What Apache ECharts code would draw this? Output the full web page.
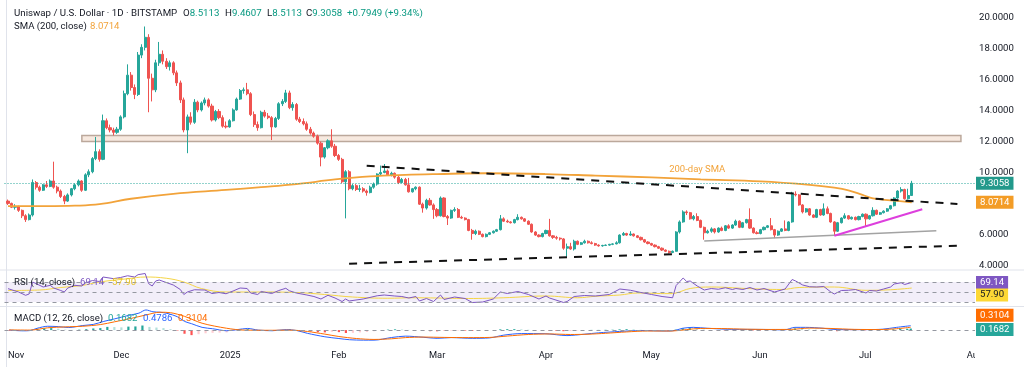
<!DOCTYPE html>
<html><head><meta charset="utf-8">
<script src="https://cdn.jsdelivr.net/npm/echarts@6/dist/echarts.min.js"></script>
<style>html,body{margin:0;padding:0;background:#fff}#c{width:1024px;height:367px}</style>
</head><body><div id="c"></div>
<script>
// ---------- DATA ----------
// daily candles [open, high, low, close], first candle 2024-10-30
const firstDay = [2024, 9, 30];
const oct24 = [[8.15,8.25,7.90,8.00],[8.00,8.05,7.70,7.75]];
const nov24 = [[7.75,7.95,7.60,7.80],[7.80,7.85,7.45,7.55],[7.55,7.60,7.05,7.20],[7.20,7.30,6.80,6.95],[6.95,7.35,6.90,7.25],
[7.25,9.55,7.15,9.35],[9.35,9.45,8.90,9.05],[9.05,9.15,8.75,8.85],[8.85,9.25,8.80,9.20],[9.20,9.45,9.00,9.10],
[9.10,9.55,9.05,9.45],[9.45,10.70,8.95,9.05],[9.05,9.15,8.65,8.80],[8.80,8.90,8.35,8.45],[8.45,8.55,7.95,8.15],
[8.15,8.65,8.10,8.55],[8.55,9.00,8.45,8.95],[8.95,9.30,8.85,9.20],[9.20,9.55,9.10,9.45],[9.45,9.50,8.75,8.85],
[8.85,9.95,8.80,9.85],[9.85,10.20,9.70,10.05],[10.05,11.00,9.95,10.90],[10.90,12.30,10.80,11.35],[11.35,11.50,10.70,10.85],
[10.85,13.75,10.80,13.35],[13.35,13.50,12.80,12.90],[12.90,13.10,12.60,12.75],[12.75,12.90,12.40,12.60],[12.60,12.95,12.50,12.80]];
const dec24 = [[12.80,13.70,12.70,13.60],[13.60,15.30,13.50,15.10],[15.10,17.00,15.00,16.30],[16.30,16.50,15.30,15.50],[15.50,15.70,14.75,15.05],
[15.05,17.80,14.95,17.60],[17.60,18.30,17.40,18.10],[18.10,19.45,17.90,18.75],[18.75,18.95,13.90,16.10],[16.10,16.40,14.60,15.35],
[15.35,17.30,15.20,17.10],[17.10,18.45,16.90,17.65],[17.65,17.90,17.00,17.20],[17.20,17.40,16.70,16.85],[16.85,17.25,16.60,17.10],
[17.10,17.20,16.30,16.45],[16.45,16.60,15.60,15.80],[15.80,15.95,14.50,14.70],[14.70,14.85,12.60,12.75],[12.75,13.75,11.25,13.60],
[13.60,13.90,13.10,13.25],[13.25,14.75,13.15,14.55],[14.55,14.65,13.90,14.05],[14.05,14.60,13.95,14.50],[14.50,14.85,14.35,14.70],
[14.70,14.80,14.20,14.30],[14.30,14.45,13.30,13.40],[13.40,14.05,13.30,13.95],[13.95,14.10,13.45,13.55],[13.55,13.70,12.90,13.00],
[13.00,13.30,12.85,12.95]];
const jan25 = [[12.95,13.45,12.90,13.35],[13.35,14.15,13.30,14.05],[14.05,14.85,14.00,14.75],[14.75,15.40,14.70,15.30],[15.30,15.50,15.10,15.35],
[15.35,15.80,15.00,15.10],[15.10,15.20,13.65,13.75],[13.75,13.95,12.95,13.10],[13.10,13.30,12.70,12.90],[12.90,14.00,12.85,13.90],
[13.90,14.05,13.55,13.65],[13.65,13.85,13.45,13.55],[13.55,13.65,12.10,12.95],[12.95,13.60,12.90,13.50],[13.50,14.55,13.40,14.45],
[14.45,14.75,14.30,14.60],[14.60,15.35,14.50,15.15],[15.15,15.30,14.10,14.20],[14.20,14.55,14.00,14.40],[14.40,14.50,13.35,13.45],
[13.45,13.60,13.20,13.30],[13.30,13.50,13.05,13.15],[13.15,13.30,12.70,12.80],[12.80,12.95,12.45,12.55],[12.55,12.65,12.25,12.35],
[12.35,12.45,11.80,11.90],[11.90,12.00,10.40,11.00],[11.00,11.65,10.90,11.60],[11.60,12.15,11.50,12.05],[12.05,12.80,11.60,11.70],
[11.70,11.85,11.00,11.10]];
const feb25 = [[11.10,11.20,10.75,10.85],[10.85,10.95,9.30,9.40],[9.40,10.15,7.03,10.05],[10.05,10.15,8.85,8.95],[8.95,9.25,8.85,9.15],
[9.15,9.25,8.80,8.90],[8.90,9.20,8.75,8.95],[8.95,9.05,8.70,8.80],[8.80,8.90,8.50,8.70],[8.70,9.15,8.65,9.05],
[9.05,9.35,8.95,9.25],[9.25,9.95,9.15,9.90],[9.90,10.45,9.80,10.00],[10.00,10.55,9.95,10.10],[10.10,10.20,9.80,9.85],
[9.85,10.05,9.75,9.95],[9.95,10.00,9.60,9.70],[9.70,9.80,9.25,9.35],[9.35,9.65,9.30,9.55],[9.55,9.65,9.15,9.20],
[9.20,9.65,8.70,8.75],[8.75,9.00,8.70,8.95],[8.95,9.10,8.85,9.05],[9.05,9.10,7.90,7.95],[7.95,8.05,7.40,7.70],
[7.70,8.30,7.60,8.20],[8.20,8.35,7.85,7.90],[7.90,8.00,7.00,7.60]];
const mar25 = [[7.60,7.70,7.10,7.20],[7.20,8.45,7.15,8.35],[8.35,8.40,7.10,7.15],[7.15,7.25,6.60,7.05],[7.05,7.60,7.00,7.55],
[7.55,7.75,7.45,7.60],[7.60,7.70,7.05,7.10],[7.10,7.20,7.00,7.05],[7.05,7.10,6.90,6.95],[6.95,7.00,6.20,6.25],
[6.25,6.35,5.65,6.05],[6.05,6.30,5.95,6.20],[6.20,6.25,5.95,6.00],[6.00,6.05,5.80,5.85],[5.85,6.05,5.80,6.00],
[6.00,6.15,5.95,6.10],[6.10,6.25,6.05,6.20],[6.20,6.35,6.15,6.30],[6.30,7.25,6.25,7.00],[7.00,7.10,6.80,6.85],
[6.85,6.95,6.75,6.80],[6.80,6.85,6.70,6.75],[6.75,7.00,6.70,6.95],[6.95,7.30,6.90,7.10],[7.10,7.15,6.95,7.00],
[7.00,7.05,6.80,6.85],[6.85,6.90,6.60,6.65],[6.65,6.70,6.10,6.15],[6.15,6.20,5.90,5.95],[5.95,6.00,5.80,5.85],
[5.85,6.10,5.80,6.05]];
const apr25 = [[6.05,6.30,6.00,6.25],[6.25,7.00,5.85,5.90],[5.90,5.95,5.70,5.80],[5.80,5.90,5.65,5.75],[5.75,5.80,5.60,5.70],
[5.70,5.75,5.00,5.10],[5.10,5.40,4.55,5.20],[5.20,5.45,5.00,5.05],[5.05,5.65,4.95,5.55],[5.55,5.60,5.30,5.35],
[5.35,5.50,5.30,5.45],[5.45,5.65,5.40,5.55],[5.55,5.60,5.40,5.45],[5.45,5.55,5.35,5.40],[5.40,5.45,5.25,5.30],
[5.30,5.35,5.20,5.25],[5.25,5.32,5.20,5.28],[5.28,5.34,5.24,5.30],[5.30,5.38,5.26,5.35],[5.35,5.42,5.30,5.38],
[5.38,5.55,5.35,5.45],[5.45,6.00,5.40,5.95],[5.95,6.15,5.90,6.05],[6.05,6.10,5.90,5.95],[5.95,6.20,5.90,6.02],
[6.02,6.05,5.85,5.90],[5.90,5.95,5.75,5.80],[5.80,5.85,5.60,5.65],[5.65,5.70,5.45,5.50],[5.50,5.55,5.35,5.40]];
const may25 = [[5.40,5.45,5.25,5.30],[5.30,5.35,5.15,5.20],[5.20,5.25,5.05,5.10],[5.10,5.15,4.92,4.98],[4.98,5.02,4.85,4.90],
[4.90,4.95,4.75,4.82],[4.82,4.95,4.78,4.90],[4.90,6.20,4.88,6.15],[6.15,6.90,6.05,6.80],[6.80,7.55,6.75,7.45],
[7.45,7.55,7.25,7.40],[7.40,7.45,6.95,7.00],[7.00,7.25,6.90,7.15],[7.15,7.36,6.85,6.90],[6.90,6.95,6.40,6.45],
[6.45,6.50,5.65,6.10],[6.10,6.30,6.05,6.20],[6.20,6.45,6.10,6.35],[6.35,6.40,6.05,6.15],[6.15,6.45,6.10,6.40],
[6.40,6.50,6.20,6.25],[6.25,6.60,6.20,6.55],[6.55,6.65,6.35,6.40],[6.40,6.65,6.35,6.60],[6.60,6.95,6.55,6.85],
[6.85,6.90,6.40,6.45],[6.45,6.80,6.40,6.75],[6.75,7.00,6.70,6.95],[6.95,7.68,6.35,6.40],[6.40,6.45,6.05,6.10],
[6.10,6.20,6.00,6.05]];
const jun25 = [[6.05,6.35,6.00,6.30],[6.30,6.50,6.25,6.45],[6.45,6.60,6.40,6.55],[6.55,7.05,6.25,6.30],[6.30,6.35,5.75,5.95],
[5.95,6.25,5.90,6.20],[6.20,6.40,6.15,6.35],[6.35,6.90,6.20,6.25],[6.25,6.85,6.20,6.80],[6.80,8.75,6.75,8.60],
[8.60,8.78,8.45,8.55],[8.55,8.60,7.85,7.90],[7.90,7.95,7.35,7.45],[7.45,7.70,7.40,7.65],[7.65,7.70,7.20,7.25],
[7.25,7.30,7.05,7.10],[7.10,7.65,7.05,7.60],[7.60,7.65,7.20,7.25],[7.25,8.00,7.20,7.65],[7.65,7.80,7.30,7.35],
[7.35,7.40,6.75,6.80],[6.80,6.85,5.90,6.20],[6.20,6.80,6.15,6.75],[6.75,7.10,6.70,7.05],[7.05,7.36,7.00,7.20],
[7.20,7.25,6.95,7.00],[7.00,7.15,6.95,7.10],[7.10,7.15,6.90,6.95],[6.95,7.20,6.90,7.15],[7.15,7.35,7.10,7.30]];
const jul25 = [[7.30,7.35,6.50,7.00],[7.00,7.25,6.95,7.20],[7.20,7.75,7.15,7.55],[7.55,7.60,7.25,7.30],[7.30,7.45,7.25,7.40],
[7.40,7.55,7.35,7.50],[7.50,7.70,7.45,7.65],[7.65,7.90,7.60,7.85],[7.85,8.40,7.80,8.35],[8.35,8.85,8.30,8.80],
[8.80,9.05,8.70,8.90],[8.90,8.95,8.25,8.30],[8.30,8.95,8.25,8.5109],[8.5113,9.4607,8.5113,9.3058]];

// SMA (200, close)
const sma200 = [['2024-10-30',7.82],['2024-11-10',7.82],['2024-11-18',7.85],['2024-11-25',7.95],['2024-12-04',8.3],
['2024-12-16',8.62],['2024-12-31',8.87],['2025-01-10',9.05],['2025-01-20',9.25],['2025-01-31',9.55],['2025-02-10',9.75],
['2025-02-20',9.85],['2025-03-01',9.9],['2025-03-15',9.95],['2025-04-01',9.9],['2025-04-15',9.8],['2025-05-01',9.68],
['2025-05-15',9.55],['2025-06-01',9.42],['2025-06-15',9.2],['2025-06-22',9.02],['2025-06-26',8.85],['2025-06-30',8.55],
['2025-07-03',8.32],['2025-07-08',8.2],['2025-07-14',8.0714]];

// drawn lines and zone
const upperTrend = [['2025-02-09',10.44],['2025-07-27',7.96]];
const lowerTrend = [['2025-02-04',4.10],['2025-07-27',5.26]];
const grayLine = [['2025-05-16',5.57],['2025-07-21',6.23]];
const magentaLine = [['2025-06-22',5.91],['2025-07-17',7.62]];
const zoneDates = ['2024-11-20','2025-07-28'];
const zonePrices = [12.0, 12.4];
const smaLabelAt = ['2025-05-14', 10.16];

// RSI (14) and its MA
const rsi = [['2024-10-30',56.7],['2024-11-02',50],['2024-11-04',43.4],['2024-11-05',46],['2024-11-06',70],['2024-11-07',66.7],
['2024-11-09',60],['2024-11-11',63.4],['2024-11-12',58],['2024-11-14',53],['2024-11-15',50],['2024-11-16',58],['2024-11-18',63.4],
['2024-11-20',62],['2024-11-21',68],['2024-11-23',73],['2024-11-25',71],['2024-11-26',80],['2024-11-29',76.7],['2024-12-01',79],
['2024-12-03',82.5],['2024-12-05',80],['2024-12-06',84.7],['2024-12-08',87],['2024-12-09',66.7],['2024-12-10',62],['2024-12-11',72],
['2024-12-12',74],['2024-12-14',69],['2024-12-16',64],['2024-12-18',55],['2024-12-19',45],['2024-12-20',50],['2024-12-22',54.5],
['2024-12-25',54],['2024-12-27',47],['2024-12-29',49],['2024-12-31',46.5],['2025-01-02',52],['2025-01-04',58],['2025-01-06',57],
['2025-01-07',48],['2025-01-09',45],['2025-01-10',51],['2025-01-13',47],['2025-01-15',53],['2025-01-17',57.5],['2025-01-18',52.5],
['2025-01-20',48],['2025-01-23',44],['2025-01-25',41],['2025-01-27',36],['2025-01-29',43.5],['2025-01-31',38],['2025-02-02',31],
['2025-02-03',36],['2025-02-04',32],['2025-02-08',36],['2025-02-12',42.5],['2025-02-14',44],['2025-02-17',42],['2025-02-19',41],
['2025-02-21',38],['2025-02-23',41],['2025-02-24',32],['2025-02-26',37],['2025-02-28',31],['2025-03-02',44],['2025-03-03',35],
['2025-03-06',40],['2025-03-09',37],['2025-03-11',29],['2025-03-14',30],['2025-03-17',36],['2025-03-19',50],['2025-03-21',47],
['2025-03-24',51],['2025-03-27',45],['2025-03-30',36],['2025-04-01',42],['2025-04-02',38],['2025-04-06',29],['2025-04-07',31],
['2025-04-09',41],['2025-04-12',43],['2025-04-15',42],['2025-04-19',45],['2025-04-22',56],['2025-04-25',53.5],['2025-04-28',49],
['2025-05-01',45],['2025-05-04',41],['2025-05-07',38.5],['2025-05-08',63],['2025-05-10',78],['2025-05-11',71],['2025-05-12',72],
['2025-05-14',62],['2025-05-16',54],['2025-05-18',57],['2025-05-20',55.5],['2025-05-22',58.5],['2025-05-24',55],['2025-05-25',57],
['2025-05-27',55],['2025-05-29',59],['2025-05-31',54],['2025-06-02',57],['2025-06-05',50],['2025-06-08',56],['2025-06-10',75],
['2025-06-11',72],['2025-06-13',64],['2025-06-15',60.5],['2025-06-17',60],['2025-06-19',61],['2025-06-21',50],['2025-06-22',46],
['2025-06-24',53],['2025-06-26',53.5],['2025-06-28',55],['2025-07-01',48],['2025-07-02',53],['2025-07-04',52],['2025-07-06',56],
['2025-07-08',60],['2025-07-09',66],['2025-07-11',68.5],['2025-07-12',65],['2025-07-14',69.14]];
const rsiMa = [['2024-10-30',53],['2024-11-08',54],['2024-11-14',59],['2024-11-20',63],['2024-11-25',70],['2024-12-03',76.5],
['2024-12-08',80],['2024-12-14',77.5],['2024-12-19',70],['2024-12-24',57],['2024-12-31',50],['2025-01-10',50],['2025-01-20',49],
['2025-01-28',45],['2025-02-05',40],['2025-02-15',37.5],['2025-02-22',38.5],['2025-03-01',38],['2025-03-10',37],['2025-03-20',38.5],
['2025-04-01',42],['2025-04-10',38.5],['2025-04-15',41.4],['2025-04-22',44],['2025-04-27',48],['2025-05-06',46.7],['2025-05-08',48],
['2025-05-12',57],['2025-05-18',60],['2025-05-28',57],['2025-06-07',55],['2025-06-12',59],['2025-06-22',60],['2025-07-01',53.4],
['2025-07-08',54.5],['2025-07-14',57.9]];
const rsiLevels = [70, 50, 30];

// MACD (12, 26)
const macdLine = [['2024-10-30',0.0],['2024-11-03',-0.08],['2024-11-05',-0.05],['2024-11-07',0.2],['2024-11-10',0.42],['2024-11-13',0.38],
['2024-11-16',0.28],['2024-11-20',0.5],['2024-11-23',0.62],['2024-11-26',0.95],['2024-11-29',1.22],['2024-12-03',1.6],['2024-12-06',1.85],
['2024-12-08',2.2],['2024-12-10',2.0],['2024-12-12',1.95],['2024-12-14',1.83],['2024-12-17',1.45],['2024-12-19',0.95],['2024-12-21',0.7],
['2024-12-24',0.3],['2024-12-27',0.15],['2024-12-31',-0.07],['2025-01-03',0.05],['2025-01-06',0.18],['2025-01-09',0.0],['2025-01-13',-0.07],
['2025-01-17',0.05],['2025-01-20',-0.05],['2025-01-23',-0.35],['2025-01-28',-0.73],['2025-02-01',-0.92],['2025-02-04',-1.05],
['2025-02-08',-1.1],['2025-02-11',-1.1],['2025-02-16',-0.81],['2025-02-20',-0.66],['2025-02-25',-0.78],['2025-03-01',-0.9],
['2025-03-05',-0.82],['2025-03-11',-0.9],['2025-03-16',-0.85],['2025-03-20',-0.55],['2025-03-25',-0.38],['2025-04-01',-0.4],
['2025-04-07',-0.6],['2025-04-12',-0.45],['2025-04-16',-0.3],['2025-04-22',-0.15],['2025-04-28',-0.05],['2025-05-06',-0.1],
['2025-05-08',-0.02],['2025-05-10',0.2],['2025-05-13',0.3],['2025-05-17',0.2],['2025-05-24',0.08],['2025-06-02',0.07],['2025-06-08',0.02],
['2025-06-11',0.3],['2025-06-14',0.3],['2025-06-19',0.2],['2025-06-23',0.05],['2025-07-01',0.05],['2025-07-06',0.1],['2025-07-10',0.3],
['2025-07-14',0.4786]];
const signalLine = [['2024-10-30',0.02],['2024-11-05',0.0],['2024-11-10',0.25],['2024-11-15',0.35],['2024-11-20',0.42],['2024-11-25',0.6],
['2024-11-29',0.9],['2024-12-04',1.3],['2024-12-08',1.65],['2024-12-12',1.95],['2024-12-15',1.9],['2024-12-19',1.5],['2024-12-24',0.75],
['2024-12-31',0.2],['2025-01-05',0.0],['2025-01-13',-0.02],['2025-01-18',0.0],['2025-01-23',-0.15],['2025-01-28',-0.44],['2025-02-01',-0.7],
['2025-02-06',-0.92],['2025-02-11',-1.02],['2025-02-16',-0.95],['2025-02-20',-0.82],['2025-02-25',-0.76],['2025-03-03',-0.8],
['2025-03-10',-0.82],['2025-03-16',-0.8],['2025-03-21',-0.65],['2025-03-27',-0.48],['2025-04-02',-0.42],['2025-04-08',-0.48],
['2025-04-13',-0.45],['2025-04-18',-0.35],['2025-04-24',-0.2],['2025-04-30',-0.1],['2025-05-07',-0.1],['2025-05-11',0.05],
['2025-05-15',0.18],['2025-05-21',0.17],['2025-05-28',0.1],['2025-06-04',0.07],['2025-06-10',0.08],['2025-06-15',0.22],
['2025-06-21',0.18],['2025-06-28',0.08],['2025-07-05',0.06],['2025-07-10',0.15],['2025-07-14',0.3104]];
const macdHist = [['2024-10-30',-0.05],['2024-11-01',-0.08],['2024-11-03',-0.1],['2024-11-05',-0.08],['2024-11-07',0.15],['2024-11-09',0.2],
['2024-11-11',0.22],['2024-11-13',0.15],['2024-11-15',0.05],['2024-11-17',0.02],['2024-11-19',0.05],['2024-11-21',0.1],['2024-11-23',0.18],
['2024-11-25',0.22],['2024-11-27',0.35],['2024-11-29',0.33],['2024-12-01',0.3],['2024-12-03',0.38],['2024-12-05',0.4],['2024-12-07',0.5],
['2024-12-09',0.35],['2024-12-11',0.28],['2024-12-13',0.22],['2024-12-15',0.1],['2024-12-17',-0.05],['2024-12-19',-0.4],['2024-12-21',-0.55],
['2024-12-23',-0.45],['2024-12-25',-0.35],['2024-12-27',-0.3],['2024-12-29',-0.28],['2024-12-31',-0.25],['2025-01-02',-0.1],['2025-01-04',0.05],
['2025-01-06',0.1],['2025-01-08',0.02],['2025-01-10',-0.05],['2025-01-12',-0.08],['2025-01-14',-0.05],['2025-01-16',0.02],['2025-01-18',0.08],
['2025-01-20',0.02],['2025-01-22',-0.08],['2025-01-24',-0.15],['2025-01-26',-0.22],['2025-01-28',-0.25],['2025-01-30',-0.18],['2025-02-01',-0.22],
['2025-02-03',-0.32],['2025-02-05',-0.3],['2025-02-07',-0.25],['2025-02-09',-0.2],['2025-02-11',-0.12],['2025-02-13',-0.02],['2025-02-15',0.05],
['2025-02-17',0.08],['2025-02-19',0.06],['2025-02-21',0.02],['2025-02-23',0.0],['2025-02-25',-0.1],['2025-02-27',-0.12],['2025-03-01',-0.13],
['2025-03-03',-0.1],['2025-03-05',-0.06],['2025-03-07',-0.05],['2025-03-09',-0.06],['2025-03-11',-0.1],['2025-03-13',-0.08],['2025-03-15',-0.04],
['2025-03-17',0.0],['2025-03-19',0.08],['2025-03-21',0.1],['2025-03-23',0.1],['2025-03-25',0.08],['2025-03-27',0.04],['2025-03-29',-0.03],
['2025-03-31',-0.06],['2025-04-02',-0.06],['2025-04-04',-0.08],['2025-04-06',-0.12],['2025-04-08',-0.1],['2025-04-10',-0.04],['2025-04-12',0.0],
['2025-04-14',0.02],['2025-04-16',0.02],['2025-04-18',0.03],['2025-04-20',0.04],['2025-04-22',0.08],['2025-04-24',0.1],['2025-04-26',0.08],
['2025-04-28',0.03],['2025-04-30',-0.02],['2025-05-02',-0.05],['2025-05-04',-0.07],['2025-05-06',-0.08],['2025-05-08',0.05],['2025-05-10',0.2],
['2025-05-12',0.22],['2025-05-14',0.15],['2025-05-16',0.05],['2025-05-18',-0.02],['2025-05-20',-0.05],['2025-05-22',-0.05],['2025-05-24',-0.02],
['2025-05-26',0.0],['2025-05-28',0.02],['2025-05-30',-0.04],['2025-06-01',-0.06],['2025-06-03',-0.04],['2025-06-05',-0.06],['2025-06-07',-0.04],
['2025-06-09',0.0],['2025-06-11',0.18],['2025-06-13',0.15],['2025-06-15',0.08],['2025-06-17',0.04],['2025-06-19',0.02],['2025-06-21',-0.04],
['2025-06-23',-0.12],['2025-06-25',-0.08],['2025-06-27',-0.05],['2025-06-29',-0.03],['2025-07-01',-0.03],['2025-07-03',0.0],['2025-07-05',0.02],
['2025-07-07',0.04],['2025-07-09',0.08],['2025-07-11',0.15],['2025-07-13',0.15],['2025-07-14',0.1682]];

const priceTicks = {min: 4, max: 20, step: 2};
const MONTHS = ['Jan','Feb','Mar','Apr','May','Jun','Jul','Aug','Sep','Oct','Nov','Dec'];

// ---------- BUILD ----------
const ohlc = [].concat(oct24, nov24, dec24, jan25, feb25, mar25, apr25, may25, jun25, jul25);
const candles = ohlc.map((r, i) => {
  const t = new Date(firstDay[0], firstDay[1], firstDay[2] + i).getTime();
  return [t, r[0], r[3], r[2], r[1]];
});
const last = ohlc[ohlc.length - 1];
const prevClose = ohlc[ohlc.length - 2][3];
const chg = last[3] - prevClose;
const lastSma = sma200[sma200.length - 1][1];
const lastRsi = rsi[rsi.length - 1][1], lastRsiMa = rsiMa[rsiMa.length - 1][1];
const lastMacd = macdLine[macdLine.length - 1][1], lastSig = signalLine[signalLine.length - 1][1];
const lastHist = macdHist[macdHist.length - 1][1];

const UP = '#26a69a', DOWN = '#ef5350', ORANGE = '#f2a33a', DARK = '#131722';
const FONT = 'Roboto';
const NOLINE = 'rgba(0,0,0,0)';
const xMin = new Date(2024, 9, 29).getTime();
const xMax = new Date(2025, 7, 1).getTime();

// font sizes fitted to the text widths seen in the reference
const mctx = document.createElement('canvas').getContext('2d');
function fitSize(text, width) { mctx.font = '100px ' + FONT; return Math.round(100 * width / mctx.measureText(text).width * 10) / 10; }
const FS_TITLE = fitSize('Uniswap / U.S. Dollar · 1D · BITSTAMP', 164);
const FS_IND = fitSize('RSI (14, close)', 61);
const FS_AXIS = fitSize('20.0000', 35);
const FS_TIME = fitSize('2025', 21);
const FS_SMA = fitSize('200-day SMA', 56);

const histData = macdHist.map((p, i) => {
  const prev = i > 0 ? macdHist[i - 1][1] : 0;
  const v = p[1];
  let c;
  if (v >= 0) c = v >= prev ? '#26a69a' : '#b2dfdb';
  else c = v <= prev ? '#ff5252' : '#ffcdd2';
  return {value: p, itemStyle: {color: c}};
});

function xAx(i, showLabel) {
  return {
    type: 'time', gridIndex: i, min: xMin, max: xMax, splitNumber: 9,
    minInterval: 28 * 864e5,
    axisLine: {show: false}, axisTick: {show: false}, splitLine: {show: false},
    axisLabel: showLabel ? {
      show: true, color: DARK, fontSize: FS_TIME, fontFamily: FONT, margin: 9,
      showMinLabel: false, showMaxLabel: true,
      formatter: v => { const d = new Date(v); return d.getMonth() === 0 ? String(d.getFullYear()) : MONTHS[d.getMonth()]; }
    } : {show: false}
  };
}
function boxLabel(text, bg, fg, offY) {
  return {show: true, position: 'end', distance: 1, formatter: text, backgroundColor: bg, color: fg,
    fontSize: FS_AXIS, fontFamily: FONT, padding: [2, 4, 1, 4], offset: [0, offY || 0]};
}
function txt(x, y, parts, fs) {
  // parts: [[text, color], ...] drawn as one rich text line
  const rich = {};
  let s = '';
  parts.forEach((p, i) => { rich['p' + i] = {fill: p[1], fontSize: fs, fontFamily: FONT}; s += '{p' + i + '|' + p[0] + '}'; });
  return {type: 'text', x: x, y: y, z: 60, silent: true,
    style: {text: s, rich: rich, fontSize: fs, fontFamily: FONT, verticalAlign: 'middle', align: 'left'}};
}

const chart = echarts.init(document.getElementById('c'), null, {renderer: 'canvas'});
chart.setOption({
  animation: false,
  backgroundColor: '#ffffff',
  grid: [
    {left: 4.5, right: 49, top: 18, height: 247.2},
    {left: 4.5, right: 49, top: 271, height: 36},
    {left: 4.5, right: 49, top: 307.2, height: 34.8}
  ],
  xAxis: [xAx(0, false), xAx(1, false), xAx(2, true)],
  yAxis: [
    {type: 'value', gridIndex: 0, position: 'right', min: priceTicks.min, max: priceTicks.max, interval: priceTicks.step,
      axisLine: {show: false}, axisTick: {show: false}, splitLine: {show: false},
      axisLabel: {color: DARK, fontSize: FS_AXIS, fontFamily: FONT, margin: 4, formatter: v => v.toFixed(4)}},
    {type: 'value', gridIndex: 1, position: 'right', min: 20, max: 92, axisLabel: {show: false}, axisLine: {show: false},
      axisTick: {show: false}, splitLine: {show: false}},
    {type: 'value', gridIndex: 2, position: 'right', min: -1.3, max: 2.5, axisLabel: {show: false}, axisLine: {show: false},
      axisTick: {show: false}, splitLine: {show: false}}
  ],
  graphic: [
    {type: 'line', shape: {x1: 0, y1: 270, x2: 1024, y2: 270}, style: {stroke: '#e0e3eb', lineWidth: 1}, silent: true},
    {type: 'line', shape: {x1: 0, y1: 306.5, x2: 1024, y2: 306.5}, style: {stroke: '#e0e3eb', lineWidth: 1}, silent: true},
    {type: 'line', shape: {x1: 6.5, y1: 0, x2: 6.5, y2: 367}, style: {stroke: '#e0e3eb', lineWidth: 1}, silent: true},
    {type: 'rect', shape: {x: 975, y: 344, width: 49, height: 23}, style: {fill: '#ffffff'}, z: 100, silent: true},
    txt(14, 14, [['Uniswap / U.S. Dollar · 1D · BITSTAMP', DARK]], FS_TITLE),
    txt(183, 14, [['O', DARK], [last[0].toFixed(4), '#089981']], FS_TITLE),
    txt(225, 14, [['H', DARK], [last[1].toFixed(4), '#089981']], FS_TITLE),
    txt(267, 14, [['L', DARK], [last[2].toFixed(4), '#089981']], FS_TITLE),
    txt(306, 14, [['C', DARK], [last[3].toFixed(4), '#089981']], FS_TITLE),
    txt(347, 14, [['+' + chg.toFixed(4) + ' (+' + (chg / prevClose * 100).toFixed(2) + '%)', '#089981']], FS_TITLE),
    txt(14, 27, [['SMA (200, close)', DARK]], FS_IND),
    txt(90, 27, [[lastSma.toFixed(4), ORANGE]], FS_IND),
    txt(14, 283, [['RSI (14, close)', DARK]], FS_IND),
    txt(80, 283, [[lastRsi.toFixed(2), '#7e57c2']], FS_IND),
    txt(112, 283, [[lastRsiMa.toFixed(2), '#e6c229']], FS_IND),
    txt(14, 319, [['MACD (12, 26, close)', DARK]], FS_IND),
    txt(108, 319, [[lastHist.toFixed(4), '#26a69a']], FS_IND),
    txt(143, 319, [[lastMacd.toFixed(4), '#2962ff']], FS_IND),
    txt(178, 319, [[lastSig.toFixed(4), '#ff6d00']], FS_IND)
  ],
  series: [
    {type: 'candlestick', xAxisIndex: 0, yAxisIndex: 0, data: candles, barWidth: 2.6, z: 3,
      itemStyle: {color: UP, color0: DOWN, borderColor: UP, borderColor0: DOWN, borderWidth: 1},
      markArea: {silent: true, itemStyle: {color: '#f7e9df', borderColor: '#bba89b', borderWidth: 1.5},
        data: [[{coord: [zoneDates[0], zonePrices[0]]}, {coord: [zoneDates[1], zonePrices[1]]}]]},
      markLine: {silent: true, symbol: ['none', 'none'],
        lineStyle: {type: [1, 2], color: UP, width: 1},
        data: [{yAxis: last[3], label: boxLabel(last[3].toFixed(4), '#22998b', '#ffffff')}]}
    },
    {type: 'line', name: 'SMA', xAxisIndex: 0, yAxisIndex: 0, data: sma200, smooth: 0.4, showSymbol: false, symbol: 'none',
      lineStyle: {color: ORANGE, width: 1.8}, z: 4,
      markLine: {silent: true, symbol: ['none', 'none'], lineStyle: {color: NOLINE, width: 0},
        data: [{yAxis: lastSma, label: boxLabel(lastSma.toFixed(4), '#f39c26', '#ffffff')}]},
      markPoint: {silent: true, symbol: 'rect', symbolSize: 1, itemStyle: {color: 'transparent'},
        label: {show: true, position: 'inside', formatter: '200-day SMA', color: ORANGE, fontSize: FS_SMA, fontFamily: FONT},
        data: [{coord: smaLabelAt}]}
    },
    {type: 'line', xAxisIndex: 0, yAxisIndex: 0, data: upperTrend, symbol: 'none', z: 5,
      lineStyle: {color: '#111111', width: 2, type: [8, 7]}},
    {type: 'line', xAxisIndex: 0, yAxisIndex: 0, data: lowerTrend, symbol: 'none', z: 5,
      lineStyle: {color: '#111111', width: 2, type: [8, 7]}},
    {type: 'line', xAxisIndex: 0, yAxisIndex: 0, data: grayLine, symbol: 'none', z: 5,
      lineStyle: {color: '#a3a3a3', width: 1.5}},
    {type: 'line', xAxisIndex: 0, yAxisIndex: 0, data: magentaLine, symbol: 'none', z: 5,
      lineStyle: {color: '#dd3fdd', width: 2}},
    // RSI
    {type: 'line', xAxisIndex: 1, yAxisIndex: 1, data: rsi, symbol: 'none', lineStyle: {color: '#7e57c2', width: 1}, z: 4,
      markArea: {silent: true, itemStyle: {color: 'rgba(126,87,194,0.10)'}, data: [[{yAxis: 30}, {yAxis: 70}]]},
      markLine: {silent: true, symbol: ['none', 'none'], label: {show: false},
        lineStyle: {type: [4, 4], color: '#9598a1', width: 1},
        data: rsiLevels.map(v => ({yAxis: v}))}
    },
    {type: 'line', xAxisIndex: 1, yAxisIndex: 1, data: rsiMa, symbol: 'none', smooth: 0.4,
      lineStyle: {color: '#f5d547', width: 1}, z: 3,
      markLine: {silent: true, symbol: ['none', 'none'], lineStyle: {color: NOLINE, width: 0},
        data: [{yAxis: lastRsi, label: boxLabel(lastRsi.toFixed(2), '#7e57c2', '#ffffff', 0)},
               {yAxis: lastRsiMa, label: boxLabel(lastRsiMa.toFixed(2), '#fdd835', DARK, 7)}]}
    },
    // MACD
    {type: 'bar', xAxisIndex: 2, yAxisIndex: 2, data: histData, barWidth: 2.2, z: 2,
      markLine: {silent: true, symbol: ['none', 'none'], label: {show: false},
        lineStyle: {type: [4, 4], color: '#9598a1', width: 1}, data: [{yAxis: 0}]}},
    {type: 'line', xAxisIndex: 2, yAxisIndex: 2, data: macdLine, symbol: 'none', smooth: 0.3,
      lineStyle: {color: '#2962ff', width: 1}, z: 3},
    {type: 'line', xAxisIndex: 2, yAxisIndex: 2, data: signalLine, symbol: 'none', smooth: 0.3,
      lineStyle: {color: '#ff6d00', width: 1}, z: 3,
      markLine: {silent: true, symbol: ['none', 'none'], lineStyle: {color: NOLINE, width: 0},
        data: [{yAxis: lastSig, label: boxLabel(lastSig.toFixed(4), '#ff6d00', '#ffffff', -12)},
               {yAxis: lastHist, label: boxLabel(lastHist.toFixed(4), '#26a69a', '#ffffff', 1)}]}
    }
  ]
});
</script></body></html>
